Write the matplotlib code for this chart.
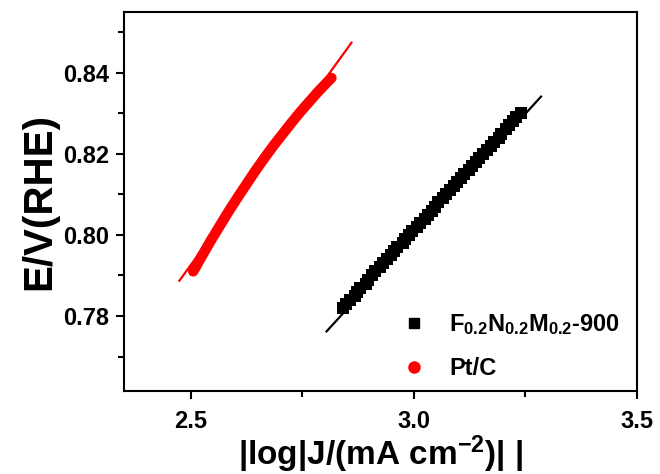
import matplotlib
matplotlib.use('Agg')
import matplotlib.pyplot as plt
from matplotlib.lines import Line2D
from matplotlib.ticker import MultipleLocator, FormatStrFormatter

plt.rcParams['font.family'] = ['Liberation Sans', 'DejaVu Sans']
plt.rcParams['font.weight'] = 'bold'
plt.rcParams['mathtext.fontset'] = 'custom'
plt.rcParams['mathtext.rm'] = 'Liberation Sans:bold'
plt.rcParams['mathtext.default'] = 'rm'

# Pt/C Tafel region
pt_x = [2.505, 2.525, 2.545, 2.565, 2.585, 2.605, 2.625, 2.645, 2.665,
        2.685, 2.705, 2.725, 2.745, 2.765, 2.785, 2.805, 2.815]
pt_y = [0.7910, 0.7949, 0.7987, 0.8023, 0.8059, 0.8093, 0.8126, 0.8159, 0.8190,
        0.8220, 0.8248, 0.8276, 0.8303, 0.8328, 0.8353, 0.8376, 0.8387]
pt_fit_x = [2.474, 2.860]
pt_fit_y = [0.7887, 0.8474]

# F0.2N0.2M0.2-900 Tafel region
fnm_x = [2.840, 2.848, 2.856, 2.867, 2.872, 2.880, 2.892, 2.898, 2.906, 2.913,
         2.925, 2.930, 2.939, 2.948, 2.955, 2.963, 2.975, 2.980, 2.990, 2.996,
         3.006, 3.013, 3.024, 3.031, 3.040, 3.048, 3.055, 3.066, 3.072, 3.081,
         3.090, 3.097, 3.106, 3.113, 3.123, 3.131, 3.139, 3.146, 3.156, 3.163,
         3.172, 3.179, 3.190, 3.196, 3.206, 3.213, 3.222, 3.230, 3.240]
fnm_y = [0.782, 0.783, 0.784, 0.785, 0.786, 0.787, 0.788, 0.789, 0.790, 0.791,
         0.792, 0.793, 0.794, 0.795, 0.796, 0.797, 0.798, 0.799, 0.800, 0.801,
         0.802, 0.803, 0.804, 0.805, 0.806, 0.807, 0.808, 0.809, 0.810, 0.811,
         0.812, 0.813, 0.814, 0.815, 0.816, 0.817, 0.818, 0.819, 0.820, 0.821,
         0.822, 0.823, 0.824, 0.825, 0.826, 0.827, 0.828, 0.829, 0.830]
fnm_fit_x = [2.804, 3.285]
fnm_fit_y = [0.7762, 0.8341]

labels = ['F$_{0.2}$N$_{0.2}$M$_{0.2}$-900', 'Pt/C']


def main() -> None:
    fig = plt.figure(figsize=(6.6, 4.74), dpi=100)
    ax = fig.add_axes([0.188, 0.175, 0.777, 0.80])

    ax.plot(fnm_x, fnm_y, 's', color='black', markersize=8, markeredgewidth=0)
    ax.plot(fnm_fit_x, fnm_fit_y, '-', color='black', linewidth=1.6)

    ax.plot(pt_x, pt_y, '-', color='red', linewidth=7.5, solid_capstyle='round')
    ax.plot(pt_fit_x, pt_fit_y, '-', color='red', linewidth=1.6)

    ax.set_xlim(2.35, 3.5)
    ax.set_ylim(0.7615, 0.855)
    ax.xaxis.set_major_locator(MultipleLocator(0.5))
    ax.xaxis.set_minor_locator(MultipleLocator(0.25))
    ax.yaxis.set_major_locator(MultipleLocator(0.02))
    ax.yaxis.set_minor_locator(MultipleLocator(0.01))
    ax.xaxis.set_major_formatter(FormatStrFormatter('%.1f'))
    ax.yaxis.set_major_formatter(FormatStrFormatter('%.2f'))

    for s in ax.spines.values():
        s.set_linewidth(1.5)
    ax.tick_params(which='major', direction='out', length=6, width=1.5,
                   labelsize=17, pad=5)
    ax.tick_params(axis='x', which='major', pad=8)
    ax.tick_params(which='minor', direction='out', length=4, width=1.5)

    ax.set_xlabel('|log|J/(mA cm$^{-2}$)| |', fontsize=24, fontweight='bold')
    # baseline of the x label sits just above the bottom edge
    ax.xaxis.set_label_coords(0.5, -0.195)
    ax.xaxis.label.set_verticalalignment('baseline')
    ax.set_ylabel('E/V(RHE)', fontsize=29, fontweight='bold', labelpad=3)

    handles = [Line2D([], [], marker='s', color='black', linestyle='none',
                      markersize=7),
               Line2D([], [], marker='o', color='red', linestyle='none',
                      markersize=8)]
    ax.legend(handles, labels, loc='lower left', bbox_to_anchor=(0.50, -0.028),
              frameon=False, fontsize=17, handlelength=1.0, handletextpad=1.0,
              labelspacing=0.85)

    fig.savefig('out.png', dpi=100)


if __name__ == '__main__':
    main()
